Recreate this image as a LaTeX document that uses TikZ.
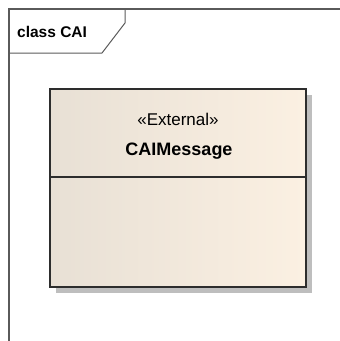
\documentclass[tikz,border=0pt]{standalone}
\usepackage{fontspec}
\setmainfont{Liberation Sans}
\definecolor{boxleft}{RGB}{232,224,213}
\definecolor{boxright}{RGB}{251,240,226}
\definecolor{frameline}{RGB}{90,90,90}
\definecolor{boxline}{RGB}{45,45,45}
\definecolor{shadowgray}{RGB}{190,190,190}
\tikzset{
  frameedge/.style={draw=frameline, line width=1.3pt},
  classbox/.style={draw=boxline, line width=1.6pt, left color=boxleft, right color=boxright},
  txt/.style={inner sep=0pt, anchor=base},
}
\begin{document}
\begin{tikzpicture}[x=1pt,y=-1pt]
\useasboundingbox (0,0) rectangle (340,341);
% frame
\draw[frameedge] (9,341) -- (9,9) -- (340,9);
\draw[frameedge, line width=1pt] (9,53) -- (102,53) -- (125,23) -- (125,9);
\node[txt, anchor=base west, font=\fontsize{15.5}{18}\selectfont\bfseries] (lbl) at (17,37) {class CAI};
% shadow
\fill[shadowgray] (56,95) rectangle (312,293);
% class box
\path[classbox] (50,89) rectangle (306,287);
\coordinate (dl) at (50,177);
\coordinate (dr) at (306,177);
\draw[draw=boxline, line width=1.4pt] (dl) -- (dr);
\node[txt, font=\fontsize{17}{20}\selectfont] (st) at (178,125) {«External»};
\node[txt, font=\fontsize{18}{21}\selectfont\bfseries] (nm) at (179,155) {CAIMessage};
\end{tikzpicture}
\end{document}
